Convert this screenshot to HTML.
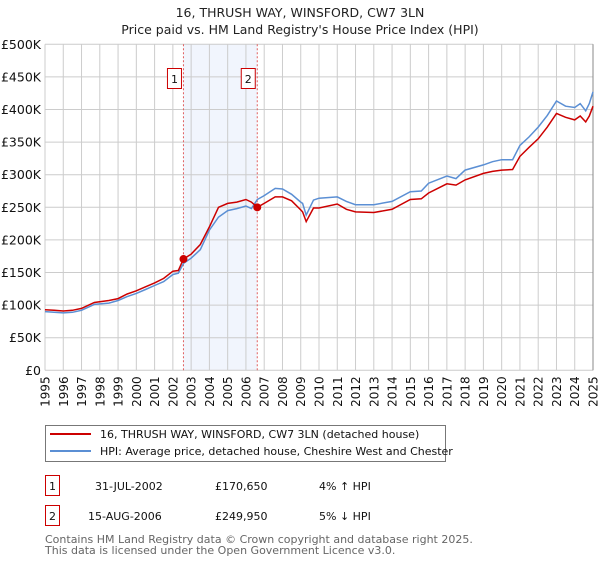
<!DOCTYPE html>
<html><head><meta charset="utf-8"><style>
body{margin:0;background:#fff;width:600px;height:560px;overflow:hidden;font-family:"DejaVu Sans","Liberation Sans",sans-serif;}
svg text{font-family:"DejaVu Sans","Liberation Sans",sans-serif;}
</style></head><body>
<svg id="c" width="600" height="560" viewBox="0 0 600 560">
<text x="300" y="17" text-anchor="middle" font-size="12.5" fill="#222">16, THRUSH WAY, WINSFORD, CW7 3LN</text>
<text x="300" y="34" text-anchor="middle" font-size="12.5" fill="#222">Price paid vs. HM Land Registry's House Price Index (HPI)</text>
<g id="plot"></g>
<g>
<rect x="45.5" y="425.5" width="400" height="36" fill="#fff" stroke="#777"/>
<line x1="50" y1="434" x2="91" y2="434" stroke="#cc0000" stroke-width="2"/>
<text x="100" y="438" font-size="11" fill="#111">16, THRUSH WAY, WINSFORD, CW7 3LN (detached house)</text>
<line x1="50" y1="451" x2="91" y2="451" stroke="#5b8fd4" stroke-width="2"/>
<text x="100" y="455" font-size="11" fill="#111">HPI: Average price, detached house, Cheshire West and Chester</text>
</g>
<g font-size="11" fill="#111">
<rect x="45.5" y="475.5" width="14" height="20" fill="#fff" stroke="#cc0000"/>
<text x="52.5" y="490" text-anchor="middle">1</text>
<text x="95" y="490">31-JUL-2002</text><text x="215" y="490">£170,650</text><text x="319" y="490">4% ↑ HPI</text>
<rect x="45.5" y="505.5" width="14" height="20" fill="#fff" stroke="#cc0000"/>
<text x="52.5" y="520" text-anchor="middle">2</text>
<text x="88" y="520">15-AUG-2006</text><text x="215" y="520">£249,950</text><text x="319" y="520">5% ↓ HPI</text>
</g>
<text x="45" y="543" font-size="11" fill="#666">Contains HM Land Registry data © Crown copyright and database right 2025.</text>
<text x="45" y="554" font-size="11" fill="#666">This data is licensed under the Open Government Licence v3.0.</text>
</svg>
<script>
const years=[1995,1995.5,1996,1996.5,1997,1997.7,1998.5,1999,1999.5,2000,2000.5,2001,2001.5,2002,2002.3,2002.58,2003,2003.5,2004,2004.5,2005,2005.5,2006,2006.3,2006.62,2007,2007.6,2008,2008.5,2009,2009.1,2009.3,2009.7,2010,2011,2011.5,2012,2013,2014,2015,2015.6,2016,2017,2017.5,2018,2019,2019.5,2020,2020.6,2021,2021.5,2022,2022.5,2023,2023.5,2024,2024.3,2024.6,2024.8,2025];
const hpi=[90,89,88,89,92,101,103,107,113,118,124,130,136,147,149,164,172,185,215,235,245,248,252,248,262,268,279,278,270,258,256,238,261,264,266,259,254,254,259,274,275,287,298,294,307,315,320,323,323,345,358,373,391,413,405,403,409,398,409,427];
const paid=[93,92,91,92,95,104,107,110,117,122,128,134,141,152,153,170.65,178,193,220,250,256,258,262,258,249.95,256,266,266,260,246,243,228,249,249,255,247,243,242,247,262,263,272,286,284,292,302,305,307,308,328,342,355,373,394,388,384,390,381,390,405];
const sales=[2002.58,2006.62];
const salePrices=[170.65,249.95];
const yTicks=[0,50,100,150,200,250,300,350,400,450,500];
const yLabels=["£0","£50K","£100K","£150K","£200K","£250K","£300K","£350K","£400K","£450K","£500K"];
const xTicks=[1995,1996,1997,1998,1999,2000,2001,2002,2003,2004,2005,2006,2007,2008,2009,2010,2011,2012,2013,2014,2015,2016,2017,2018,2019,2020,2021,2022,2023,2024,2025];
const X0=45,X1=593,Y0=370.3,Y1=44.3;
const sx=v=>X0+(v-1995)/30*(X1-X0);
const sy=v=>Y0-v/500*(Y0-Y1);
const NS="http://www.w3.org/2000/svg";
const g=document.getElementById('plot');
function mk(t,a,p){const e=document.createElementNS(NS,t);for(const k in a)e.setAttribute(k,a[k]);(p||g).appendChild(e);return e;}
const sh=mk('rect',{x:sx(sales[0]),y:Y1,width:sx(sales[1])-sx(sales[0]),height:Y0-Y1,fill:'#eef3fc',opacity:0.8});


yTicks.forEach((v,i)=>{
 const l=mk('line',{x1:X0,x2:X1,y1:sy(v),y2:sy(v),stroke:'#ccc'});
 
 
 const t=mk('text',{x:X0-4,y:sy(v)+4.5,'text-anchor':'end','font-size':'12.5',fill:'#111'});
 t.textContent=yLabels[i];
 
 
});
xTicks.forEach(v=>{
 const l=mk('line',{x1:sx(v),x2:sx(v),y1:Y1,y2:Y0,stroke:'#ccc'});
 
 
 const t=mk('text',{x:0,y:0,'text-anchor':'end','font-size':'12',fill:'#111',transform:`translate(${sx(v)+4.5},${Y0+6}) rotate(-90)`});
 t.textContent=v;
 
 
});
const edge=mk('line',{x1:X1,x2:X1,y1:Y1,y2:Y0,stroke:'#888'});


sales.forEach((s,i)=>{
 const l=mk('line',{x1:sx(s),x2:sx(s),y1:Y1,y2:Y0,stroke:'#e06060','stroke-dasharray':'2,2'});
 
 
 const r=mk('rect',{x:sx(s)-16,y:68.5,width:14,height:20,fill:'#fff',stroke:'#cc0000'});
 
 
 const t=mk('text',{x:sx(s)-9,y:83,'text-anchor':'middle','font-size':'11',fill:'#111'});
 t.textContent=i+1;
 
 
});
const pts=a=>a.map((v,i)=>sx(years[i]).toFixed(1)+','+sy(v).toFixed(1)).join(' ');
const hl=mk('polyline',{points:pts(hpi),fill:'none',stroke:'#5b8fd4','stroke-width':1.5});


const pl=mk('polyline',{points:pts(paid),fill:'none',stroke:'#cc0000','stroke-width':1.5});


sales.forEach((s,i)=>{
 const c=mk('circle',{cx:sx(s),cy:sy(salePrices[i]),r:4,fill:'#cc0000'});
 
 
});
</script>
</body></html>
